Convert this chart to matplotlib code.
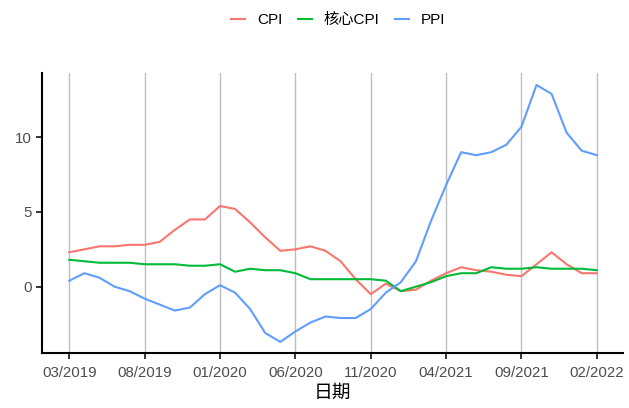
import matplotlib
matplotlib.use("Agg")
import matplotlib.pyplot as plt
from matplotlib.lines import Line2D

plt.rcParams['font.family'] = ['Liberation Sans', 'Noto Sans CJK SC', 'DejaVu Sans']

months = ["03/2019", "04/2019", "05/2019", "06/2019", "07/2019", "08/2019", "09/2019", "10/2019",
          "11/2019", "12/2019", "01/2020", "02/2020", "03/2020", "04/2020", "05/2020", "06/2020",
          "07/2020", "08/2020", "09/2020", "10/2020", "11/2020", "12/2020", "01/2021", "02/2021",
          "03/2021", "04/2021", "05/2021", "06/2021", "07/2021", "08/2021", "09/2021", "10/2021",
          "11/2021", "12/2021", "01/2022", "02/2022"]
cpi = [2.3, 2.5, 2.7, 2.7, 2.8, 2.8, 3.0, 3.8, 4.5, 4.5, 5.4, 5.2, 4.3, 3.3, 2.4, 2.5,
       2.7, 2.4, 1.7, 0.5, -0.5, 0.2, -0.3, -0.2, 0.4, 0.9, 1.3, 1.1, 1.0, 0.8, 0.7, 1.5,
       2.3, 1.5, 0.9, 0.9]
core_cpi = [1.8, 1.7, 1.6, 1.6, 1.6, 1.5, 1.5, 1.5, 1.4, 1.4, 1.5, 1.0, 1.2, 1.1, 1.1, 0.9,
            0.5, 0.5, 0.5, 0.5, 0.5, 0.4, -0.3, 0.0, 0.3, 0.7, 0.9, 0.9, 1.3, 1.2, 1.2, 1.3,
            1.2, 1.2, 1.2, 1.1]
ppi = [0.4, 0.9, 0.6, 0.0, -0.3, -0.8, -1.2, -1.6, -1.4, -0.5, 0.1, -0.4, -1.5, -3.1, -3.7, -3.0,
       -2.4, -2.0, -2.1, -2.1, -1.5, -0.4, 0.3, 1.7, 4.4, 6.8, 9.0, 8.8, 9.0, 9.5, 10.7, 13.5,
       12.9, 10.3, 9.1, 8.8]
series_names = ["CPI", "核心CPI", "PPI"]
colors = ["#F8766D", "#00BA38", "#619CFF"]
tick_idx = [0, 5, 10, 15, 20, 25, 30, 35]
y_ticks = [0, 5, 10]

fig = plt.figure(figsize=(6.29, 4.08), dpi=100)
ax = fig.add_axes([0.0668, 0.1348, 0.9237, 0.687])

x = list(range(len(months)))
for vals, c in zip([cpi, core_cpi, ppi], colors):
    ax.plot(x, vals, color=c, lw=1.5, solid_joinstyle='round', zorder=3)

ax.set_xlim(-1.81, 36.74)
ax.set_ylim(-4.44, 14.32)
ax.set_xticks(tick_idx)
ax.set_xticklabels([months[i] for i in tick_idx])
ax.set_yticks(y_ticks)
ax.xaxis.grid(True, color="#BEBEBE", lw=1.0, zorder=0)
ax.yaxis.grid(False)
for s in ["top", "right"]:
    ax.spines[s].set_visible(False)
for s in ["left", "bottom"]:
    ax.spines[s].set_linewidth(1.5)
    ax.spines[s].set_color("black")
ax.tick_params(axis='both', direction='out', length=4, width=1.1, color='black',
               labelsize=10.8, labelcolor="#4D4D4D")
ax.tick_params(axis='x', pad=5)
ax.set_xlabel("日期", fontsize=13.5, color="black", labelpad=4)

handles = [Line2D([0], [0], color=c, lw=1.5) for c in colors]
fig.legend(handles, series_names, loc='center', bbox_to_anchor=(0.538, 0.95), ncol=3,
           frameon=False, fontsize=11, handlelength=0.9, columnspacing=1.0,
           handletextpad=0.8)

fig.savefig("out.png", dpi=100)
